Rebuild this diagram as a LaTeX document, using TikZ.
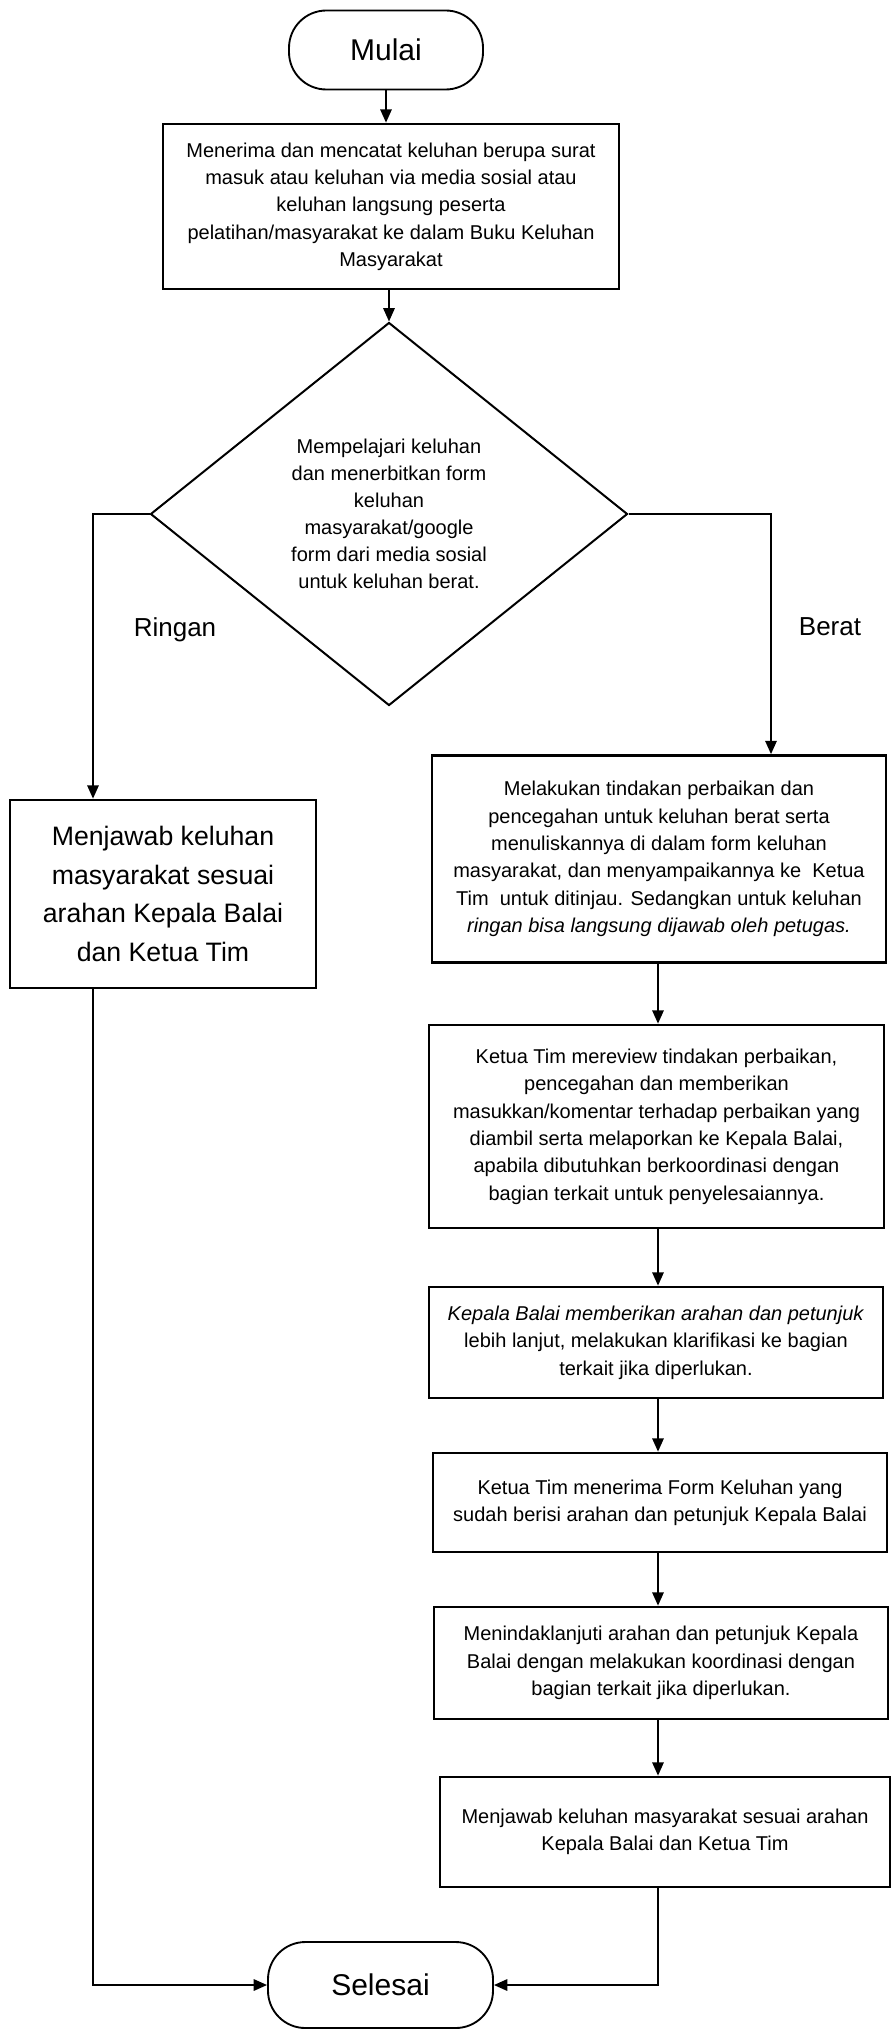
\documentclass[tikz,border=0pt]{standalone}
\usepackage{fontspec}
\setmainfont{Liberation Sans}
\usetikzlibrary{arrows.meta,shapes.geometric}
\begin{document}
\begin{tikzpicture}[x=0.75pt,y=-0.75pt,
  box/.style={draw, line width=2pt, inner sep=0pt, align=center,
    font=\fontsize{15}{20.5}\selectfont},
  bigbox/.style={box, font=\fontsize{20}{29}\selectfont},
  term/.style={draw, line width=1.4pt, rounded corners=28pt, inner sep=0pt,
    font=\fontsize{22.5}{27}\selectfont},
  dec/.style={draw, line width=1.5pt, shape=diamond, inner sep=0pt, align=center,
    font=\fontsize{15}{20.25}\selectfont},
  lbl/.style={font=\fontsize{19.5}{23}\selectfont, inner sep=0pt},
  conn/.style={line width=1.5pt, -{Triangle[length=10pt,width=8.5pt]}},
  plain/.style={line width=1.5pt}
]
\useasboundingbox (0,0) rectangle (893,2030);

\node[term, minimum width=145.5pt, minimum height=59.25pt] (mulai) at (386,50) {Mulai};

\node[box, minimum width=342pt, minimum height=123.75pt] (b1) at (391,206.5)
 {Menerima dan mencatat keluhan berupa surat\\
  masuk atau keluhan via media sosial atau\\
  keluhan langsung peserta\\
  pelatihan/masyarakat ke dalam Buku Keluhan\\
  Masyarakat};

\node[dec, minimum width=357.75pt, minimum height=287.25pt] (d) at (389,514)
 {Mempelajari keluhan\\
  dan menerbitkan form\\
  keluhan\\
  masyarakat/google\\
  form dari media sosial\\
  untuk keluhan berat.};

\node[lbl] (ringan) at (175,630) {Ringan};
\node[lbl] (berat) at (830,627) {Berat};

\node[bigbox, minimum width=229.5pt, minimum height=141pt] (lb) at (163,894)
 {Menjawab keluhan\\
  masyarakat sesuai\\
  arahan Kepala Balai\\
  dan Ketua Tim};

\node[box, minimum width=340.5pt, minimum height=155.25pt] (b2) at (659,859)
 {Melakukan tindakan perbaikan dan\\
  pencegahan untuk keluhan berat serta\\
  menuliskannya di dalam form keluhan\\
  masyarakat, dan menyampaikannya ke\ \ Ketua\\
  Tim\ \ untuk ditinjau. Sedangkan untuk keluhan\\
  \textit{ringan bisa langsung dijawab oleh petugas.}};

\node[box, minimum width=341.25pt, minimum height=152.25pt] (b3) at (656.5,1126.5)
 {Ketua Tim mereview tindakan perbaikan,\\
  pencegahan dan memberikan\\
  masukkan/komentar terhadap perbaikan yang\\
  diambil serta melaporkan ke Kepala Balai,\\
  apabila dibutuhkan berkoordinasi dengan\\
  bagian terkait untuk penyelesaiannya.};

\node[box, minimum width=340.5pt, minimum height=83.25pt] (b4) at (656,1342.5)
 {\textit{Kepala Balai memberikan arahan dan petunjuk}\\
  lebih lanjut, melakukan klarifikasi ke bagian\\
  terkait jika diperlukan.};

\node[box, minimum width=340.5pt, minimum height=74.25pt] (b5) at (660,1502.5)
 {Ketua Tim menerima Form Keluhan yang\\
  sudah berisi arahan dan petunjuk Kepala Balai};

\node[box, minimum width=340.5pt, minimum height=84pt] (b6) at (661,1663)
 {Menindaklanjuti arahan dan petunjuk Kepala\\
  Balai dengan melakukan koordinasi dengan\\
  bagian terkait jika diperlukan.};

\node[box, minimum width=337.5pt, minimum height=82.5pt] (b7) at (665,1832)
 {Menjawab keluhan masyarakat sesuai arahan\\
  Kepala Balai dan Ketua Tim};

\node[term, minimum width=168.75pt, minimum height=64.5pt] (sel) at (380.5,1985) {Selesai};

\coordinate (lx) at (93,515);
\coordinate (rx) at (771,515);
\coordinate (cx) at (658,0);

\draw[conn] (mulai.south) -- (mulai.south |- b1.north);
\draw[conn] (d.north |- b1.south) -- (d.north);
\draw[conn] (d.west) -| (lx |- lb.north);
\draw[conn] (d.east) -| (rx |- b2.north);
\draw[conn] (lx |- lb.south) |- (sel.west);
\draw[conn] (b2.south -| cx) -- (b3.north -| cx);
\draw[conn] (b3.south -| cx) -- (b4.north -| cx);
\draw[conn] (b4.south -| cx) -- (b5.north -| cx);
\draw[conn] (b5.south -| cx) -- (b6.north -| cx);
\draw[conn] (b6.south -| cx) -- (b7.north -| cx);
\draw[conn] (b7.south -| cx) |- (sel.east);
\end{tikzpicture}
\end{document}
